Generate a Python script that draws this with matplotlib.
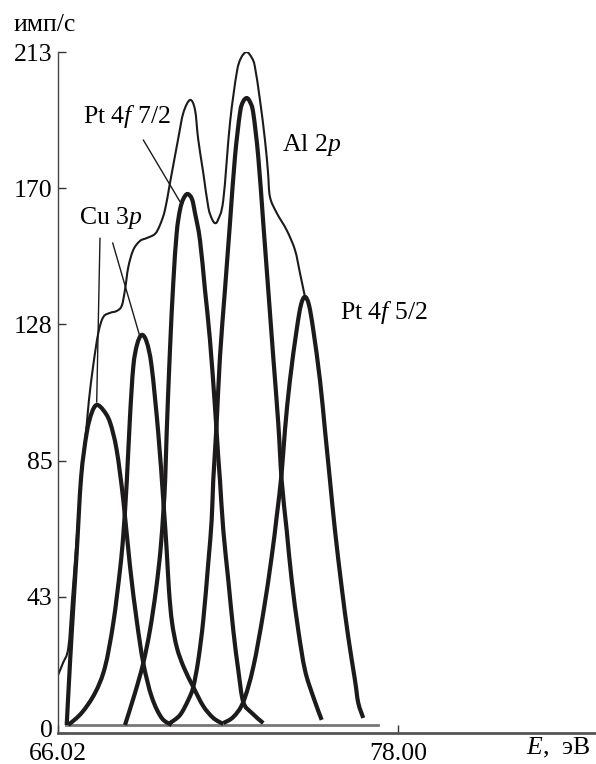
import matplotlib
matplotlib.use("Agg")
import matplotlib.pyplot as plt
from matplotlib.path import Path
from matplotlib.patches import PathPatch
from matplotlib.transforms import ScaledTranslation

plt.rcParams["font.family"] = ["Liberation Serif", "DejaVu Serif"]
plt.rcParams["mathtext.fontset"] = "custom"
plt.rcParams["mathtext.rm"] = "Liberation Serif"
plt.rcParams["mathtext.it"] = "Liberation Serif:italic"

# measured envelope (thin line)
env_x = [66.020, 66.196, 66.383, 66.513, 66.654, 66.795, 66.901, 67.031, 67.112,
         67.264, 67.440, 67.616, 67.852, 68.088, 68.265, 68.381, 68.497, 68.673,
         68.909, 69.145, 69.438, 69.614, 69.790, 69.966, 70.248, 70.435, 70.671,
         70.847, 70.964, 71.140, 71.316, 71.446, 71.552, 71.657, 71.845, 72.081,
         72.317, 72.468, 72.669, 72.856, 72.961, 73.138, 73.314, 73.420, 73.490,
         73.726, 74.079, 74.371, 74.547, 74.723]
env_y = [18.1, 21.9, 26.6, 41.6, 57.9, 74.4, 85.4, 96.3, 104.2,
         115.1, 125.1, 130.1, 131.4, 132.0, 133.6, 138.6, 145.7, 151.1,
         153.9, 154.8, 156.1, 158.9, 163.6, 172.0, 185.5, 193.9, 198.0,
         195.0, 185.5, 175.2, 164.5, 160.8, 159.5, 160.5, 166.7, 190.8,
         206.4, 211.1, 213.0, 211.1, 208.3, 198.0, 185.5, 175.5, 167.7,
         162.7, 157.3, 151.1, 143.9, 136.4]

# fitted components (thick lines)
cu1_x = [66.327, 66.443, 66.559, 66.679, 66.835, 67.031, 67.207, 67.384, 67.616,
         67.852, 68.088, 68.321, 68.557, 68.793, 69.026, 69.322, 69.674, 70.026]
cu1_y = [2.5, 21.9, 39.4, 56.3, 80.0, 93.8, 100.1, 102.6, 101.0,
         97.2, 88.5, 72.9, 52.2, 35.3, 21.9, 11.3, 4.7, 2.5]

cu2_x = [66.383, 66.855, 67.324, 67.676, 67.969, 68.205, 68.321, 68.441, 68.557,
         68.673, 68.804, 68.969, 69.145, 69.322, 69.554, 69.730, 69.850, 69.931,
         70.037, 70.213, 70.460, 70.787, 71.140, 71.492, 71.845]
cu2_y = [2.5, 6.3, 12.5, 20.6, 34.4, 51.0, 61.9, 78.2, 98.8,
         114.5, 121.4, 124.5, 122.3, 114.5, 93.8, 72.9, 57.2, 44.7,
         34.7, 26.6, 20.4, 14.4, 8.4, 4.7, 2.8]

pt7_x = [68.381, 68.733, 69.026, 69.262, 69.473, 69.632, 69.737, 69.797, 69.850,
         69.966, 70.083, 70.203, 70.319, 70.435, 70.583, 70.742, 70.847, 71.023,
         71.200, 71.376, 71.552, 71.668, 71.728, 71.845, 72.021, 72.197, 72.373,
         72.549, 72.845, 73.254]
pt7_y = [2.5, 12.5, 21.9, 32.2, 44.7, 57.2, 69.8, 79.1, 93.8,
         119.8, 140.8, 156.4, 163.6, 167.0, 168.6, 167.0, 162.7, 154.2,
         138.6, 122.9, 102.0, 86.3, 79.1, 63.5, 47.9, 32.2, 19.7,
         9.7, 6.3, 3.1]

al_x = [69.966, 70.319, 70.611, 70.787, 70.964, 71.140, 71.316, 71.436, 71.492,
        71.612, 71.728, 71.904, 72.081, 72.257, 72.433, 72.539, 72.669, 72.785,
        72.902, 73.078, 73.254, 73.430, 73.606, 73.782, 73.902, 74.079, 74.255,
        74.487, 74.723, 75.016, 75.312]
al_y = [3.1, 5.6, 10.3, 14.4, 22.8, 35.3, 53.2, 66.6, 79.1,
        97.0, 117.6, 138.6, 159.5, 180.2, 193.9, 197.4, 198.6, 197.4,
        193.9, 180.2, 159.5, 138.6, 117.6, 97.0, 79.1, 63.5, 47.9,
        32.2, 19.7, 11.3, 4.1]

pt5_x = [71.845, 72.197, 72.549, 72.902, 73.254, 73.550, 73.726, 73.902, 74.019,
         74.195, 74.431, 74.582, 74.723, 74.864, 75.016, 75.252, 75.428, 75.604,
         75.780, 76.016, 76.249, 76.485, 76.602, 76.778]
pt5_y = [3.1, 5.0, 9.7, 20.6, 37.5, 55.1, 67.6, 81.3, 94.8,
         110.4, 126.1, 133.9, 136.4, 133.9, 126.1, 110.4, 94.8, 79.1,
         63.5, 45.7, 30.0, 16.6, 9.4, 4.7]

base_x = [66.30, 77.30]
base_y = [2.5, 2.5]

ytick_vals = [0, 42.6, 85.2, 127.8, 170.4, 213]
ytick_labels = ["0", "43", "85", "128", "170", "213"]
xtick_vals = [66.02, 78.00]
xtick_labels = ["66.02", "78.00"]

fs = 18.5
ink = "#1c1a1a"


def smooth_path(xs, ys):
    # Catmull-Rom through the read points, drawn as cubic Bezier segments
    pts = list(zip(xs, ys))
    n = len(pts)
    verts = [pts[0]]
    codes = [Path.MOVETO]
    for i in range(n - 1):
        p0 = pts[max(i - 1, 0)]
        p1 = pts[i]
        p2 = pts[i + 1]
        p3 = pts[min(i + 2, n - 1)]
        c1 = (p1[0] + (p2[0] - p0[0]) / 6, p1[1] + (p2[1] - p0[1]) / 6)
        c2 = (p2[0] - (p3[0] - p1[0]) / 6, p2[1] - (p3[1] - p1[1]) / 6)
        verts += [c1, c2, p2]
        codes += [Path.CURVE4] * 3
    return Path(verts, codes)


fig = plt.figure(figsize=(5.96, 7.64), dpi=100)
ax = fig.add_axes([0.0973, 0.0406, 0.9027, 0.8913])

ax.plot(base_x, base_y, color="#777777", lw=2.0, zorder=1)
ax.add_patch(PathPatch(smooth_path(env_x, env_y), fill=False,
                       edgecolor=ink, lw=1.5, zorder=2))
for xs, ys in [(cu1_x, cu1_y), (cu2_x, cu2_y), (pt7_x, pt7_y),
               (al_x, al_y), (pt5_x, pt5_y)]:
    ax.add_patch(PathPatch(smooth_path(xs, ys), fill=False, edgecolor=ink,
                           lw=3.0, zorder=3, capstyle="butt"))

ax.set_xlim(66.02, 84.98)
ax.set_ylim(0, 213)

for side in ("top", "right"):
    ax.spines[side].set_visible(False)
ax.spines["left"].set_color("#444444")
ax.spines["left"].set_linewidth(1.0)
ax.spines["bottom"].set_color("#555555")
ax.spines["bottom"].set_linewidth(2.0)

ax.set_yticks(ytick_vals)
ax.set_yticklabels(ytick_labels)
ax.set_xticks(xtick_vals)
ax.set_xticklabels(xtick_labels)
ax.tick_params(direction="in", length=6, width=1, colors="#333333",
               labelcolor="black", labelsize=fs)
ax.tick_params(axis="y", pad=4)
ax.tick_params(axis="x", pad=7)

# lift the "0" label a little so it clears "66.02"
zero = ax.get_yticklabels()[0]
zero.set_transform(zero.get_transform()
                   + ScaledTranslation(0, 3 / 72, fig.dpi_scale_trans))

# peak labels with leader lines
lead = dict(arrowstyle="-", color=ink, lw=1.0, shrinkA=0, shrinkB=0)
ax.text(67.888, 161.1, "Cu 3$p$", fontsize=fs, ha="center", va="center")
ax.annotate("", xy=(67.384, 103.5), xytext=(67.500, 154.8), arrowprops=lead)
ax.annotate("", xy=(68.909, 123.9), xytext=(67.947, 153.3), arrowprops=lead)
ax.text(68.451, 192.7, "Pt 4$f$ 7/2", fontsize=fs, ha="center", va="center")
ax.annotate("", xy=(70.319, 166.2), xytext=(69.026, 185.5), arrowprops=lead)
ax.text(74.970, 183.9, "Al 2$p$", fontsize=fs, ha="center", va="center")
ax.text(77.507, 131.4, "Pt 4$f$ 5/2", fontsize=fs, ha="center", va="center")

fig.text(0.0755, 0.967, "имп/с", fontsize=fs, ha="center", va="center")
fig.text(0.936, 0.021, "$E$,  эВ", fontsize=fs, ha="center", va="center")

fig.savefig("out.png", dpi=100)
